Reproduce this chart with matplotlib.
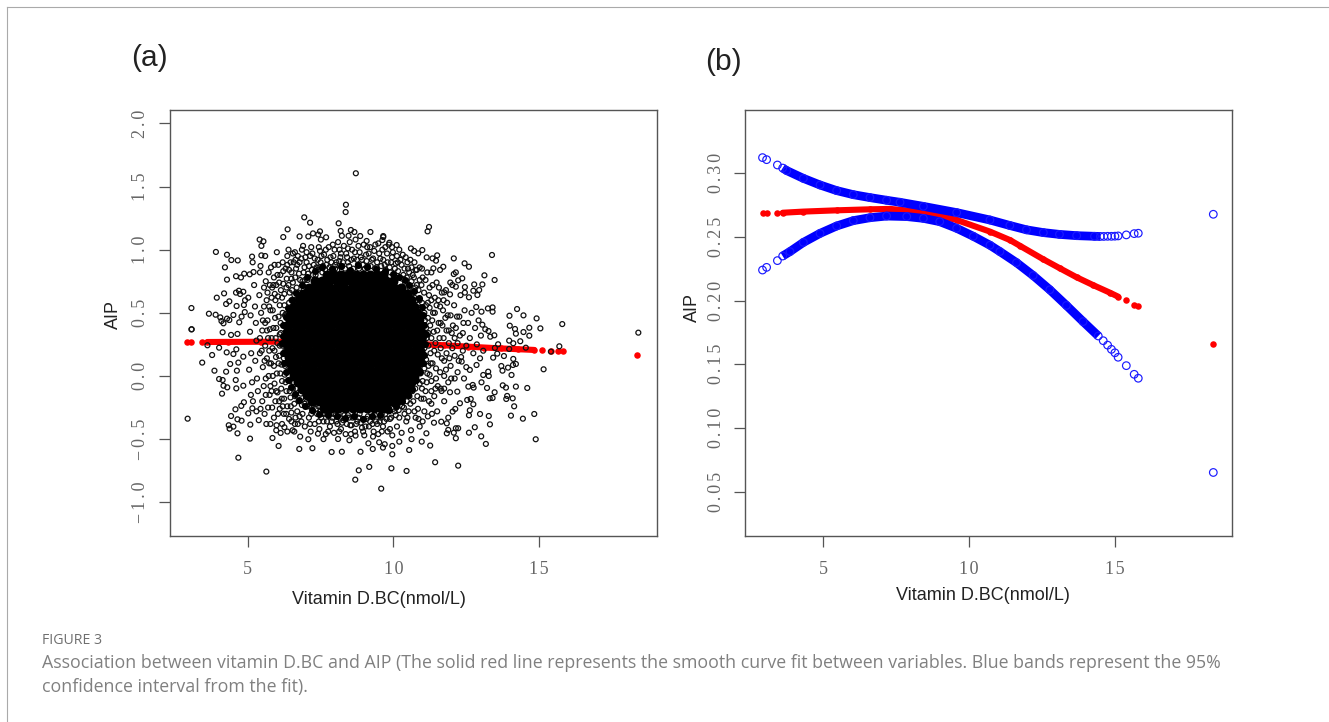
import matplotlib
matplotlib.use('Agg')
import matplotlib.pyplot as plt
from matplotlib.lines import Line2D

W, H = 1329, 722

# fitted curve and limits
fit_x = [2.93, 3.07, 3.44, 3.62, 4.33, 5.47, 6.61, 7.3, 8.44, 9.58, 10.72, 11.4, 11.75, 12.55, 13.12, 13.69, 14.26,
         14.83, 15.11, 15.39, 15.66, 15.8, 18.37]
fit_y = [.2685, .2685, .2688, .269, .2699, .2709, .2717, .272, .2696, .2633, .2542, .2476, .243, .2324, .2253, .2183,
         .2121, .2062, .2031, .2002, .1968, .1958, .1662]

upper_x = [2.93, 3.07, 3.44, 3.62, 3.76, 4.33, 4.9, 5.47, 6.04, 6.61, 7.18, 7.64, 8.44, 9.58, 10.72, 11.4, 11.97, 12.55,
           13.1, 13.69, 14.3, 14.5, 14.62, 14.75, 14.88, 15.0, 15.11, 15.39, 15.66, 15.8, 18.37]
upper_y = [.3123, .3107, .3065, .3041, .3021, .296, .2908, .2864, .2832, .2809, .2788, .2772, .274, .2691, .2633, .259,
           .2556, .2534, .252, .251, .2505, .2504, .2504, .2505, .2505, .2506, .2508, .2516, .2526, .2529, .2678]
lower_x = [2.93, 3.07, 3.44, 3.62, 3.87, 4.33, 4.9, 5.47, 6.04, 6.61, 7.18, 7.87, 8.44, 9.0, 9.58, 10.15, 10.72, 11.06,
           11.63, 12.2, 12.77, 13.34, 13.91, 14.43, 14.6, 14.75, 14.88, 15.0, 15.11, 15.39, 15.66, 15.8, 18.37]
lower_y = [.224, .2261, .2314, .235, .2385, .2457, .2528, .2586, .2628, .2651, .2664, .266, .2646, .262, .2568, .2505,
           .2435, .2385, .2298, .2197, .2085, .1962, .1835, .1722, .1685, .165, .1617, .159, .1555, .1489, .1421, .139, .065]

# scatter points of panel (a)
top_left = [(8.71,1.605),(8.37,1.356),(8.36,1.298),(6.94,1.256),(7.14,1.214),(8.12,1.209),(6.37,1.161),(8.54,1.156),
            (8.19,1.148),(7.48,1.145),(7.24,1.129),(7.42,1.12),(8.66,1.14),(9.21,1.14),(8.23,1.11),(8.46,1.11),(6.22,1.1),
            (6.78,1.105),(7.08,1.105),(7.69,1.098),(7.51,1.08),(5.41,1.08),(5.54,1.066),(9.65,1.1),(9.62,1.076),(8.86,1.108),
            (9.08,1.069),(9.86,1.055),(5.47,1.03),(3.91,.982),(4.29,.96),(4.44,.918),(4.66,.915),(5.15,.945),(5.17,.9),
            (5.47,.955),(4.22,.86),(5.44,.871),(4.6,.79),(4.77,.78),(4.88,.81),(5.07,.805),(5.2,.823),(4.29,.763),(4.19,.654),
            (3.94,.62),(4.6,.66),(4.7,.675),(4.85,.667),(4.74,.649),(4.26,.57),(4.37,.591),(3.07,.538),(3.67,.493),(3.9,.485),
            (4.06,.464),(4.51,.483),(4.29,.454),(4.1,.435),(4.17,.417),(4.37,.443),(4.71,.425),(4.79,.47),(4.9,.506),(4.91,.6),
            (4.87,.562),(3.07,.369),(4.62,.554)]
top_right = [(11.22,1.18),(11.17,1.145),(9.65,1.108),(10.11,1.037),(10.6,1.01),(10.71,.99),(10.85,.971),(10.99,.997),
             (11.5,.955),(11.34,.931),(11.14,.939),(11.46,.913),(12.07,.931),(13.38,.958),(12.44,.892),(12.59,.865),(11.71,.865),
             (11.37,.852),(13.12,.797),(12.14,.82),(12.07,.807),(12.36,.773),(12.22,.757),(13.47,.76),(12.77,.725),(13.05,.725),
             (12.02,.72),(12.14,.707),(12.45,.704),(12.94,.681),(12.74,.675),(12.88,.641),(12.45,.66),(12.59,.623),(11.94,.646),
             (11.74,.662),(12.84,.546),(13.4,.543),(13.24,.535),(13.02,.509),(13.4,.509),(14.24,.53),(13.98,.477),(14.46,.48),
             (14.91,.456),(15.79,.411),(13.99,.398),(13.05,.406),(14.66,.382),(15.04,.377),(14.17,.372)]
low_right = [(18.4,.343),(14.66,.319),(14.46,.348),(14.2,.335),(13.46,.322),(13.26,.356),(13.32,.311),(14.35,.275),(13.97,.28),
             (14.11,.259),(15.69,.235),(13.59,.251),(13.48,.222),(13.97,.214),(14.54,.224),(15.4,.193),(13.79,.158),(14.11,.135),
             (14.2,.095),(14.1,.087),(13.93,.066),(13.7,.079),(13.74,.042),(14.05,.008),(15.15,.053),(13.56,.177),(13.42,.145),
             (13.25,.034),(13.27,0),(13.08,.008),(13.75,-.074),(13.86,-.092),(14.2,-.084),(14.59,-.095),(13.47,-.129),(13.21,-.095),
             (13.9,-.158),(13.87,-.182),(14.09,-.177),(13.3,-.177),(13.4,-.174),(14.14,-.24),(14.83,-.301),(14.03,-.314),(14.44,-.338),
             (13.27,-.317),(12.97,-.301),(12.62,-.272),(12.59,-.311),(13.31,-.383),(12.79,-.406),(12.59,-.449),(13.01,-.478),
             (14.88,-.501),(13.17,-.538),(12.14,-.493),(12.22,-.414),(12.14,-.414),(11.88,-.427),(11.83,-.454),(12.07,-.449),
             (12.22,-.71),(11.43,-.683),(10.45,-.752),(9.93,-.731),(9.58,-.892),(9.96,-.62),(9.96,-.554),(9.64,-.567),(10.54,-.586),
             (11.26,-.551),(10.97,-.52),(11.13,-.454),(11.39,-.37),(11.64,-.362),(11.83,-.375),(11.88,-.33),(12.12,-.261),(12.03,-.282),
             (12.28,-.216),(12.74,-.224),(12.65,-.182),(12.53,-.19),(12.75,-.092),(12.72,-.071),(12.57,-.084),(12.19,-.124),(11.94,-.129),
             (11.65,-.119),(13.02,-.05),(12.62,.048),(12.34,.114),(12.85,.087),(12.97,.14)]
low_left = [(3.08,.37),(2.94,-.338),(3.62,.243),(3.78,.166),(3.44,.106),(3.86,.042),(4.02,-.024),(4.14,-.032),(4.17,-.077),(4.3,-.09),
            (4.12,-.14),(4.61,-.098),(4.59,-.032),(4.26,.034),(4.4,.095),(4.28,.187),(4.02,.224),(4.14,.346),(4.43,.325),(4.65,.333),
            (4.61,.211),(4.51,.174),(4.63,.042),(4.58,-.264),(4.78,-.237),(4.43,-.317),(4.35,-.39),(4.38,-.417),(4.51,-.401),(4.65,-.343),
            (4.79,-.354),(5.09,-.385),(4.65,-.454),(5.08,-.496),(4.68,-.647),(5.64,-.38),(5.64,-.757),(5.85,-.491),(6.06,-.554),(6.13,-.451),
            (5.99,-.39),(6.26,-.406),(6.54,-.43),(6.77,-.578),(7.08,-.501),(7.22,-.572),(7.41,-.457),(7.88,-.602),(8.23,-.6),(8.87,-.6),
            (8.81,-.747),(8.69,-.821),(9.17,-.72),(9.29,-.578),(8.49,-.509),(8.1,-.499),(8.7,-.472),(9.14,-.533),(9.51,-.525),(5.02,-.296),
            (5.16,-.256),(4.87,-.208),(5.11,-.15),(4.85,-.077),(4.68,.106),(4.85,.153)]

# dense band round the black middle, positions estimated
ring_left = [(5.02,.62),(5.08,.35),(5.12,.18),(5.05,.05),(5.15,-.05),(5.18,-.2),(5.1,.48),(5.22,.72),(5.25,.55),(5.28,.42),(5.3,.28),
             (5.26,.12),(5.32,-.02),(5.35,-.12),(5.3,-.28),(5.38,-.35),(5.4,.64),(5.42,.82),(5.46,.5),(5.5,.36),(5.48,.2),(5.52,.07),
             (5.55,-.08),(5.5,-.2),(5.58,-.3),(5.6,.95),(5.62,.75),(5.65,.6),(5.68,.44),(5.7,.3),(5.66,.14),(5.72,0),(5.75,-.15),(5.7,-.25),
             (5.78,-.38),(5.8,.86),(5.84,.7),(5.86,.52),(5.88,.38),(5.85,.22),(5.9,.08),(5.92,-.06),(5.95,-.2),(5.9,-.33),(5.98,-.43),
             (6.0,.98),(6.02,.8),(6.04,.63),(6.06,.47),(6.1,.33),(6.08,.16),(6.12,.02),(6.15,-.1),(6.1,-.26),(6.18,-.38),(6.2,.9),(6.22,.73),
             (6.26,.56),(6.24,.4),(6.2,.24),(6.28,.08),(6.3,-.05),(6.25,-.18),(6.32,-.3),(6.36,-.44),(6.4,1.0),(6.42,.84),(6.44,.66),
             (6.38,.12),(6.44,-.12),(6.48,-.24),(6.5,-.36),(6.14,.68),(6.31,.49),(6.33,.17),(6.02,.26),(6.17,-.18),(5.95,.6),(6.34,.77),
             (6.55,.74),(6.5,.6),(6.4,.5),(6.58,-.05),(6.62,-.16),(6.7,-.28),(6.66,.85),(6.6,-.44),(5.78,.52),(5.6,.24),(5.42,.18)]
ring_top = [(6.62,.98),(6.78,.9),(6.86,1.0),(6.92,.82),(6.98,.94),(7.05,.76),(7.1,.87),(7.18,1.02),(7.24,.8),(7.3,.93),(7.36,.86),
            (7.44,1.02),(7.5,.9),(7.56,.82),(7.62,.96),(7.7,.88),(7.78,1.02),(7.84,.94),(7.9,.85),(7.98,1.0),(8.04,.9),(8.1,1.06),(8.18,.94),
            (8.24,.87),(8.3,1.03),(8.38,.97),(8.44,.9),(8.5,1.06),(8.58,1.0),(8.64,.93),(8.7,1.08),(8.78,.88),(8.84,.98),(8.92,.92),(8.98,1.04),
            (9.06,.96),(9.12,.87),(9.2,1.02),(9.26,.92),(9.34,.99),(9.42,.86),(9.48,1.05),(9.55,.93),(9.62,1.0),(9.7,.88),(9.78,.97),(9.84,1.04),
            (9.92,.9),(9.98,.98),(10.05,.85),(10.12,.95),(10.2,1.0),(10.28,.88),(10.34,.8),(10.42,.94),(10.5,.85),(10.58,.92),(10.66,.8),
            (10.72,.9),(10.8,.84),(7.0,.7),(7.4,.84),(8.0,.85),(9.9,.82),(10.4,.74),(10.55,.7),(6.8,.76),(6.75,.66)]
ring_right = [(10.75,.7),(10.9,.76),(10.98,.85),(11.05,.66),(11.1,.76),(11.18,.58),(11.24,.7),(11.3,.82),(11.36,.5),(11.42,.62),(11.48,.74),
              (11.55,.42),(11.6,.55),(11.66,.66),(11.72,.3),(11.78,.46),(11.84,.58),(11.9,.36),(11.96,.48),(12.02,.22),(12.08,.56),(12.14,.38),
              (12.2,.26),(12.26,.47),(12.32,.15),(12.38,.34),(12.44,.52),(12.5,.24),(12.56,.42),(12.62,.3),(12.68,.5),(12.74,.18),(12.8,.38),
              (12.86,.25),(12.92,.44),(13.0,.32),(13.08,.2),(13.15,.37),(11.06,.5),(11.12,.38),(11.2,.24),(11.28,.1),(11.16,.02),(11.3,-.04),
              (11.4,.2),(11.46,.06),(11.52,-.08),(11.58,.3),(11.66,.14),(11.74,0),(11.82,.18),(11.88,-.05),(11.96,.08),(12.1,-.02),(12.2,.03),
              (12.42,-.02),(12.5,.07),(11.1,-.12),(11.22,-.2),(11.4,-.16),(11.5,-.28),(11.32,-.3),(11.74,-.2),(11.06,-.28),(10.95,-.18),(11.0,.1),
              (11.06,.22),(11.0,-.04),(10.9,.6),(12.3,.64),(11.95,.74),(11.6,.84)]
ring_bottom = [(6.72,-.38),(6.8,-.48),(6.88,-.3),(6.96,-.4),(7.04,-.24),(7.1,-.33),(7.16,-.44),(7.24,-.28),(7.3,-.38),(7.38,-.3),(7.46,-.42),
               (7.52,-.33),(7.6,-.36),(7.68,-.46),(7.74,-.3),(7.82,-.4),(7.9,-.33),(7.96,-.45),(8.04,-.36),(8.12,-.3),(8.2,-.42),(8.28,-.35),
               (8.36,-.46),(8.44,-.31),(8.52,-.39),(8.6,-.33),(8.68,-.44),(8.76,-.36),(8.84,-.3),(8.92,-.41),(9.0,-.47),(9.08,-.34),(9.16,-.4),
               (9.24,-.3),(9.32,-.44),(9.4,-.36),(9.48,-.46),(9.56,-.33),(9.64,-.4),(9.72,-.3),(9.8,-.44),(9.88,-.34),(9.96,-.47),(10.04,-.28),
               (10.12,-.4),(10.2,-.33),(10.28,-.45),(10.36,-.25),(10.44,-.36),(10.52,-.28),(10.6,-.43),(10.68,-.2),(10.76,-.33),(10.84,-.26),
               (10.9,-.4),(10.62,-.5),(10.2,-.52),(9.7,-.54),(7.6,-.5),(6.95,-.22),(7.3,-.2),(10.1,-.25),(10.55,-.16),(10.75,-.1)]

# second layer close to the middle, where the circles nearly merge
fringe_top = [(6.5,.82),(6.58,.9),(6.63,.78),(6.7,.88),(6.76,.81),(6.84,.93),(6.88,.75),(6.95,.86),(7.02,.9),(7.07,.81),(7.14,.95),(7.2,.84),
              (7.27,.88),(7.33,.8),(7.4,.92),(7.46,.86),(7.53,.95),(7.58,.87),(7.66,.84),(7.73,.92),(7.8,.86),(7.87,.9),(7.94,.95),(8.0,.88),
              (8.07,.84),(8.14,.91),(8.2,.97),(8.27,.9),(8.34,.85),(8.41,.94),(8.48,.87),(8.55,.92),(8.62,.85),(8.68,.98),(8.75,.92),(8.82,.85),
              (8.88,.94),(8.95,.88),(9.02,.85),(9.08,.91),(9.15,.97),(9.22,.87),(9.3,.93),(9.37,.85),(9.44,.9),(9.51,.97),(9.58,.87),(9.65,.92),
              (9.73,.84),(9.8,.9),(9.87,.86),(9.95,.94),(10.02,.8),(10.08,.89),(10.16,.83),(10.24,.92),(10.3,.77),(10.38,.85),(10.46,.78),
              (10.54,.82),(10.62,.75),(10.7,.78),(10.8,.72),(10.86,.68),(10.96,.72)]
fringe_left = [(5.56,.55),(5.6,.42),(5.58,.12),(5.62,-.02),(5.68,.66),(5.74,.55),(5.76,.37),(5.74,.2),(5.8,.1),(5.82,-.12),(5.84,-.25),
               (5.9,.78),(5.93,.65),(5.94,.46),(5.96,.3),(5.97,.15),(6.0,.02),(6.02,-.13),(6.04,-.3),(6.08,.74),(6.1,.56),(6.13,.42),(6.15,.25),
               (6.16,.09),(6.18,-.04),(6.2,-.24),(6.22,.83),(6.26,.65),(6.28,.48),(6.3,.32),(6.29,.2),(6.27,.01),(6.33,-.12),(6.36,-.24),(6.36,.88),
               (6.4,.72),(6.42,.58),(6.38,.28),(6.4,.04),(6.44,-.04),(6.47,-.17),(6.5,-.29),(6.5,.77),(6.52,.68),(6.54,.52),(6.55,-.1),(6.6,-.22),
               (6.64,-.33),(6.6,.64),(6.68,.7),(6.66,-.1),(6.74,-.2),(6.78,-.32),(6.82,-.14),(6.86,-.23),(6.92,.68),(6.96,.76)]
fringe_right = [(10.62,.66),(10.72,.62),(10.8,.6),(10.86,.54),(10.92,.47),(10.98,.58),(11.02,.4),(11.04,.3),(11.0,.18),(11.06,.06),(11.08,.44),
                (11.12,.56),(11.14,.3),(11.12,.13),(11.18,.46),(11.2,.34),(11.2,.08),(11.24,.54),(11.26,.4),(11.27,.18),(11.3,.3),(11.33,.44),
                (11.34,.1),(11.38,.35),(11.42,.5),(11.44,.26),(11.5,.36),(11.52,.17),(11.54,.6),(11.62,.42),(11.62,.22),(11.7,.52),(11.74,.12),
                (11.82,.36),(11.9,.26),(11.92,.14),(12.04,.4),(12.1,.3),(10.98,-.1),(10.9,-.06),(10.82,-.16),(11.04,-.18),(11.14,-.05),(11.24,.01),
                (11.3,-.12),(10.74,-.04),(10.92,.02),(10.65,-.12),(10.58,-.22),(10.46,-.2),(10.38,-.3),(10.3,-.24),(10.18,-.27),(11.46,-.02),(11.6,.03)]
fringe_bottom = [(7.0,-.18),(7.1,-.24),(7.18,-.3),(7.26,-.22),(7.34,-.26),(7.42,-.24),(7.5,-.28),(7.58,-.3),(7.66,-.3),(7.72,-.36),(7.8,-.3),
                 (7.88,-.36),(7.94,-.3),(8.02,-.31),(8.08,-.38),(8.16,-.33),(8.24,-.37),(8.32,-.31),(8.4,-.38),(8.48,-.33),(8.56,-.39),(8.64,-.32),
                 (8.72,-.38),(8.8,-.33),(8.88,-.37),(8.96,-.34),(9.04,-.4),(9.12,-.32),(9.2,-.36),(9.28,-.38),(9.36,-.31),(9.44,-.38),(9.52,-.36),
                 (9.6,-.3),(9.68,-.36),(9.76,-.34),(9.84,-.28),(9.92,-.33),(10.0,-.26),(10.08,-.31)]
fringe_extra = [(5.72,.82),(5.76,.72),(5.82,.62),(5.88,.72),(5.92,.88),(5.98,.72),(6.05,.88),(6.12,.8),(6.18,.62),(6.3,.85),(6.33,.7),(6.36,.95),
                (6.47,.9),(6.55,.97),(6.64,.92),(6.72,.95),(6.9,1.03),(7.02,.98),(7.22,.97),(7.48,.99),(7.68,1.0),(7.92,1.04),(8.15,1.0),(8.44,1.01),
                (8.8,1.03),(9.1,1.02),(9.38,1.04),(9.72,1.02),(9.95,1.02),(10.15,.9),(10.32,.96),(10.48,.9),(10.62,.86),(10.76,.84),(10.9,.86),
                (11.0,.78),(11.16,.82),(11.22,.64),(11.3,.6),(11.34,.72),(11.48,.56),(11.56,.7),(11.72,.6),(11.8,.68),(11.68,.4),(11.86,.48),
                (12.0,.34),(12.18,.47),(12.28,.32),(12.4,.42),(12.1,.16),(12.24,.12),(12.38,.2),(11.8,.05),(11.98,-.02),(11.62,-.1),(11.74,-.1),
                (11.44,-.1),(11.3,-.22),(11.18,-.32),(11.0,-.36),(10.86,-.34),(10.72,-.28),(10.48,-.33),(9.88,-.42),(9.6,-.44),(9.3,-.48),(8.96,-.44),
                (8.54,-.46),(8.14,-.44),(7.76,-.44),(7.44,-.36),(7.14,-.38),(6.84,-.36),(6.62,-.38),(6.42,-.34),(6.24,-.3),(6.08,-.2),(5.98,-.12),
                (5.86,.0),(5.78,-.08),(5.62,-.15),(5.44,-.26),(5.42,.3),(5.56,.7),(5.74,.1),(5.92,.2),(5.98,.38),(6.06,.1),(6.1,.24),(6.14,.34),
                (6.2,.5),(6.24,.14),(5.82,.3),(5.66,.36),(5.52,.44)]

# black middle of the cloud, too dense to read single points: (aip, vitamin values)
core_rows = [(.80,[7.72,7.96,8.21,8.45,8.7,8.94,9.19,9.42,9.63]),
             (.75,[7.32,7.56,7.8,8.05,8.3,8.54,8.78,9.03,9.27,9.52,9.76,10.0]),
             (.70,[7.1,7.34,7.59,7.83,8.08,8.32,8.57,8.81,9.06,9.3,9.55,9.79,10.03,10.25]),
             (.65,[6.9,7.15,7.4,7.64,7.89,8.13,8.38,8.62,8.87,9.11,9.36,9.6,9.85,10.09,10.32,10.46]),
             (.60,[6.75,7.0,7.24,7.49,7.73,7.98,8.22,8.47,8.71,8.96,9.2,9.45,9.69,9.94,10.18,10.42,10.6]),
             (.55,[6.6,6.85,7.09,7.34,7.58,7.83,8.07,8.32,8.56,8.81,9.05,9.3,9.54,9.79,10.03,10.28,10.52,10.72]),
             (.50,[6.5,6.74,6.99,7.23,7.48,7.72,7.97,8.21,8.46,8.7,8.95,9.19,9.44,9.68,9.93,10.17,10.42,10.66,10.82]),
             (.45,[6.45,6.7,6.94,7.19,7.43,7.68,7.92,8.17,8.41,8.66,8.9,9.15,9.39,9.64,9.88,10.13,10.37,10.62,10.86]),
             (.40,[6.4,6.65,6.89,7.14,7.38,7.63,7.87,8.12,8.36,8.61,8.85,9.1,9.34,9.59,9.83,10.08,10.32,10.57,10.81,10.92]),
             (.35,[6.35,6.6,6.84,7.09,7.33,7.58,7.82,8.07,8.31,8.56,8.8,9.05,9.29,9.54,9.78,10.03,10.27,10.52,10.76,10.93]),
             (.30,[6.36,6.61,6.85,7.1,7.34,7.59,7.83,8.08,8.32,8.57,8.81,9.06,9.3,9.55,9.79,10.04,10.28,10.53,10.77,10.96]),
             (.25,[6.35,6.59,6.84,7.08,7.33,7.57,7.82,8.06,8.31,8.55,8.8,9.04,9.29,9.53,9.78,10.02,10.27,10.51,10.76,10.95]),
             (.20,[6.4,6.65,6.89,7.14,7.38,7.63,7.87,8.12,8.36,8.61,8.85,9.1,9.34,9.59,9.83,10.08,10.32,10.57,10.81,10.92]),
             (.15,[6.42,6.66,6.91,7.15,7.4,7.64,7.89,8.13,8.38,8.62,8.87,9.11,9.36,9.6,9.85,10.09,10.34,10.58,10.83,10.9]),
             (.10,[6.46,6.7,6.95,7.19,7.44,7.68,7.93,8.17,8.42,8.66,8.91,9.15,9.4,9.64,9.89,10.13,10.38,10.62,10.85]),
             (.05,[6.52,6.76,7.01,7.25,7.5,7.74,7.99,8.23,8.48,8.72,8.97,9.21,9.46,9.7,9.95,10.19,10.44,10.68,10.8]),
             (.00,[6.6,6.85,7.09,7.34,7.58,7.83,8.07,8.32,8.56,8.81,9.05,9.3,9.54,9.79,10.03,10.28,10.52,10.7]),
             (-.05,[6.72,6.96,7.21,7.45,7.7,7.94,8.19,8.43,8.68,8.92,9.17,9.41,9.66,9.9,10.15,10.39,10.6]),
             (-.10,[6.86,7.1,7.35,7.59,7.84,8.08,8.33,8.57,8.82,9.06,9.31,9.55,9.8,10.04,10.29,10.46]),
             (-.15,[7.02,7.26,7.51,7.75,8.0,8.24,8.49,8.73,8.98,9.22,9.47,9.71,9.96,10.2,10.3]),
             (-.20,[7.22,7.46,7.71,7.95,8.2,8.44,8.69,8.93,9.18,9.42,9.67,9.91,10.1]),
             (-.25,[7.62,7.86,8.11,8.35,8.6,8.84,9.09,9.33,9.57,9.76])]
core_edge = [(7.3,.83),(7.55,.86),(7.9,.85),(8.2,.87),(8.5,.84),(8.8,.88),(9.1,.86),(9.4,.85),(9.7,.83),(10.0,.81),(10.2,.78),(7.05,.78),
             (6.85,.72),(6.65,.66),(6.52,.6),(6.4,.54),(6.3,.47),(6.22,.4),(6.2,.32),(6.17,.26),(6.2,.18),(6.24,.1),(6.3,.03),(6.4,-.03),
             (6.5,-.09),(6.62,-.14),(6.76,-.19),(6.95,-.24),(7.2,-.27),(7.45,-.3),(7.75,-.31),(8.05,-.32),(8.35,-.33),(8.65,-.32),(8.95,-.34),
             (9.25,-.32),(9.55,-.31),(9.85,-.27),(10.1,-.24),(10.3,-.2),(10.5,-.15),(10.65,-.1),(10.78,-.03),(10.9,.03),(11.0,.1),(11.06,.17),
             (11.08,.25),(11.12,.33),(11.06,.4),(11.02,.48),(10.98,.55),(10.86,.62),(10.72,.67),(10.55,.72),(10.4,.76)]

x_ticks = [5, 10, 15]
a_yticks = [-1.0, -0.5, 0.0, 0.5, 1.0, 1.5, 2.0]
b_yticks = [0.05, 0.10, 0.15, 0.20, 0.25, 0.30]

caption_head = 'FIGURE 3'
caption_1 = ('Association between vitamin D.BC and AIP (The solid red line represents the smooth curve fit '
             'between variables. Blue bands represent the 95%')
caption_2 = 'confidence interval from the fit).'

GREY = '#555555'
TICK_TEXT = '#666666'
HAIR = '\u200a'


def fx(px):
    return px / W


def fy(py):
    return 1 - py / H


def spaced(s, gap=2):
    # the tick labels in the picture are letter-spaced
    return (HAIR * gap).join(s)


def make_axes(fig, left, right, xlim, ylim, yticks, ylabels):
    ax = fig.add_axes([fx(left), fy(536), (right - left) / W, (536 - 110) / H])
    ax.set_xlim(xlim)
    ax.set_ylim(ylim)
    ax.set_xticks(x_ticks)
    ax.set_xticklabels([spaced(str(v), 1) for v in x_ticks], family='Liberation Serif')
    ax.set_yticks(yticks)
    ax.set_yticklabels([spaced(s) for s in ylabels], rotation=90, va='center', family='Liberation Serif')
    for s in ax.spines.values():
        s.set_color(GREY)
        s.set_linewidth(1.0)
    ax.tick_params(length=7.7, width=0.9, color=GREY, labelsize=13, labelcolor=TICK_TEXT)
    ax.tick_params(axis='x', pad=10)
    ax.tick_params(axis='y', pad=7)
    return ax


fig = plt.figure(figsize=(W / 100, H / 100), dpi=100)

# panel a
ax1 = make_axes(fig, 169.7, 656.7, (2.325, 19.03), (-1.267, 2.106), a_yticks,
                [f'{v:.1f}'.replace('-', '\u2212') for v in a_yticks])
ax1.plot(fit_x[3:18], fit_y[3:18], color='#ff0000', lw=4.4, solid_capstyle='round', zorder=1)
ax1.scatter(fit_x, fit_y, s=22, color='#ff0000', linewidths=0, zorder=1)

open_pts = (top_left + top_right + low_right + low_left + ring_left + ring_top + ring_right + ring_bottom
            + fringe_top + fringe_left + fringe_right + fringe_bottom + fringe_extra)
ax1.scatter([p[0] for p in open_pts], [p[1] for p in open_pts], s=12.5, facecolors='none',
            edgecolors='#111111', linewidths=0.9, zorder=2)
core_x = [x for y, xs in core_rows for x in xs]
core_y = [y for y, xs in core_rows for x in xs]
ax1.scatter(core_x, core_y, s=52, color='black', linewidths=0, zorder=3)
ax1.scatter([p[0] for p in core_edge], [p[1] for p in core_edge], s=26, color='black', linewidths=0, zorder=3)

# panel b
ax2 = make_axes(fig, 745, 1231.7, (2.33, 19.0), (0.0151, 0.3497), b_yticks, [f'{v:.2f}' for v in b_yticks])
ax2.plot(fit_x[3:19], fit_y[3:19], color='#ff0000', lw=4.4, solid_capstyle='round', zorder=1)
ax2.scatter(fit_x, fit_y, s=22, color='#ff0000', linewidths=0, zorder=1)
for xs, ys, stop in ((upper_x, upper_y, 22), (lower_x, lower_y, 24)):
    ax2.plot(xs[3:stop], ys[3:stop], color='#0000ff', lw=6.3, solid_capstyle='butt', zorder=2)
    ax2.scatter(xs, ys, s=30, facecolors='none', edgecolors='#1a1aff', linewidths=0.85, zorder=3)

# axis labels and panel letters
sans = 'Liberation Sans'
fig.text(fx(379), fy(599), 'Vitamin D.BC(nmol/L)', family=sans, fontsize=13, color='#222222', ha='center', va='center')
fig.text(fx(982.5), fy(596), 'Vitamin D.BC(nmol/L)', family=sans, fontsize=13, color='#222222', ha='center', va='center')
fig.text(fx(113), fy(315), 'AIP', family=sans, fontsize=13, color='#222222', rotation=90, ha='center', va='center')
fig.text(fx(692), fy(308), 'AIP', family=sans, fontsize=13, color='#222222', rotation=90, ha='center', va='center')
fig.text(fx(149.5), fy(58), '(a)', family=sans, fontsize=21.5, color='#222222', ha='center', va='center')
fig.text(fx(723), fy(62), '(b)', family=sans, fontsize=21.5, color='#222222', ha='center', va='center')

# caption
fig.text(fx(42), fy(641), caption_head, family='Open Sans', fontsize=10.2, color='#6f6f6f', va='center')
fig.text(fx(42), fy(663), caption_1, family='Open Sans', fontsize=12.8, color='#808080', va='center')
fig.text(fx(42), fy(687), caption_2, family='Open Sans', fontsize=12.8, color='#808080', va='center')

# page frame
fig.add_artist(Line2D([fx(7), 1], [fy(7), fy(7)], color='#aaaaaa', lw=0.8))
fig.add_artist(Line2D([fx(6.5), fx(6.5)], [fy(7), 0], color='#aaaaaa', lw=0.8))

fig.savefig('out.png', dpi=100)
